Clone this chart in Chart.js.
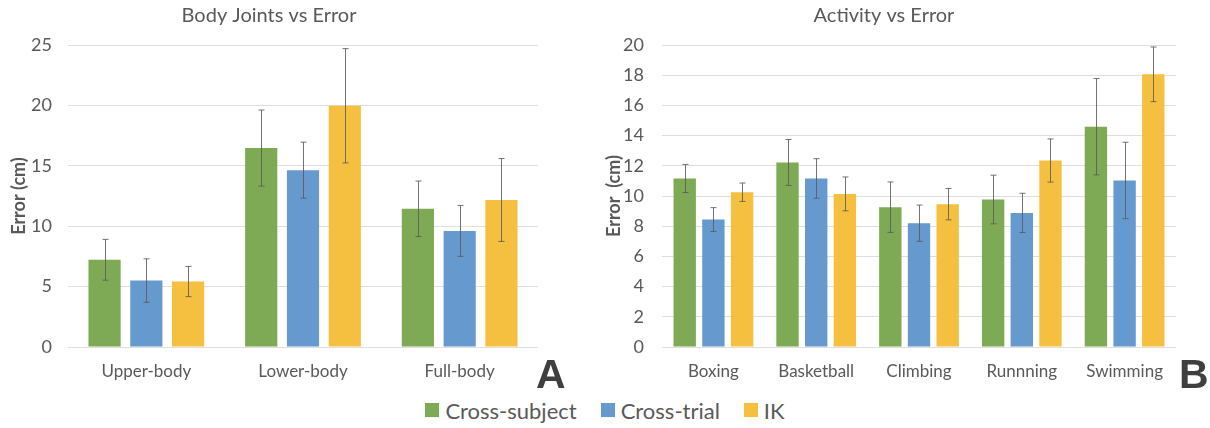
<!DOCTYPE html>
<html><head><meta charset="utf-8">
<script src="https://cdn.jsdelivr.net/npm/chart.js@4/dist/chart.umd.min.js"></script>
<style>
html,body{margin:0;padding:0;background:#fff;width:1210px;height:428px;overflow:hidden;position:relative;font-family:Lato,"Noto Sans",sans-serif;}
#wa{position:absolute;left:0;top:0;width:546px;height:397px;}
#wb{position:absolute;left:592px;top:0;width:592px;height:397px;}
.letter{position:absolute;font-family:"Liberation Sans",Arial,sans-serif;font-weight:bold;font-size:41px;color:#3f3f3f;line-height:1;}
#legend{position:absolute;left:0;width:1210px;top:398px;height:24px;display:flex;justify-content:center;align-items:center;color:#595959;font-size:22px;}
.li{display:flex;align-items:center;margin:0 12px;}
.sw{width:14px;height:14px;margin-right:6px;}
</style></head>
<body>
<div id="wa"><canvas id="ca"></canvas></div>
<div id="wb"><canvas id="cb"></canvas></div>
<div class="letter" style="left:536px;top:354px;">A</div>
<div class="letter" style="left:1179px;top:354px;">B</div>
<div id="legend"></div>
<script>
// ---- data ----
const seriesNames = ["Cross-subject", "Cross-trial", "IK"];
const seriesColors = ["#7EAA55", "#6699CE", "#F5BF3F"];

const jointCats = ["Upper-body", "Lower-body", "Full-body"];
const jointCrossSubject = [7.22, 16.47, 11.44];
const jointCrossSubjectErr = [1.69, 3.15, 2.30];
const jointCrossTrial = [5.50, 14.64, 9.61];
const jointCrossTrialErr = [1.80, 2.32, 2.11];
const jointIK = [5.42, 19.97, 12.17];
const jointIKErr = [1.25, 4.73, 3.43];

const actCats = ["Boxing", "Basketball", "Climbing", "Runnning", "Swimming"];
const actCrossSubject = [11.16, 12.22, 9.26, 9.77, 14.59];
const actCrossSubjectErr = [0.93, 1.52, 1.67, 1.61, 3.19];
const actCrossTrial = [8.44, 11.16, 8.20, 8.88, 11.03];
const actCrossTrialErr = [0.79, 1.31, 1.20, 1.30, 2.53];
const actIK = [10.25, 10.14, 9.46, 12.35, 18.06];
const actIKErr = [0.61, 1.12, 1.04, 1.43, 1.81];

const leftTicks = [0, 5, 10, 15, 20, 25];
const rightTicks = [0, 2, 4, 6, 8, 10, 12, 14, 16, 18, 20];

// ---- legend ----
const lg = document.getElementById('legend');
seriesNames.forEach((n, i) => {
  const d = document.createElement('div'); d.className = 'li';
  const s = document.createElement('div'); s.className = 'sw'; s.style.background = seriesColors[i];
  const t = document.createElement('span'); t.textContent = n;
  d.appendChild(s); d.appendChild(t); lg.appendChild(d);
});

const FONT = "Lato";
const TXT = "#595959";

const errorBars = {
  id: 'errorBars',
  afterDatasetsDraw(chart) {
    const ctx = chart.ctx;
    const ys = chart.scales.y;
    ctx.save();
    ctx.strokeStyle = "rgba(90,90,90,0.85)";
    ctx.lineWidth = 1;
    chart.data.datasets.forEach((ds, di) => {
      const meta = chart.getDatasetMeta(di);
      meta.data.forEach((bar, i) => {
        const v = ds.data[i], e = ds.errors[i];
        const x = Math.round(bar.x) + 0.5;
        const y1 = ys.getPixelForValue(v + e), y2 = ys.getPixelForValue(v - e);
        ctx.beginPath();
        ctx.moveTo(x, y1); ctx.lineTo(x, y2);
        ctx.moveTo(x - 3, y1); ctx.lineTo(x + 3, y1);
        ctx.moveTo(x - 3, y2); ctx.lineTo(x + 3, y2);
        ctx.stroke();
      });
    });
    ctx.restore();
  }
};

function makeChart(id, title, cats, vals, errs, ticks, step, yWidth, yTitle, yTitlePad, tickPad, catPct, barPct) {
  return new Chart(document.getElementById(id), {
    type: 'bar',
    data: {
      labels: cats,
      datasets: vals.map((v, i) => ({
        label: seriesNames[i], data: v, errors: errs[i],
        backgroundColor: seriesColors[i], borderWidth: 0,
        categoryPercentage: catPct, barPercentage: barPct
      }))
    },
    options: {
      responsive: true, maintainAspectRatio: false, animation: false,
      devicePixelRatio: 1,
      layout: { padding: { left: 0, right: 8, top: 0, bottom: 0 } },
      plugins: {
        legend: { display: false },
        tooltip: { enabled: false },
        title: { display: true, text: title, color: TXT,
          font: { family: FONT, size: 20, weight: 'normal' }, padding: { top: 4, bottom: 17 } }
      },
      scales: {
        x: {
          grid: { display: false, drawTicks: false },
          border: { display: false },
          ticks: { color: TXT, font: { family: FONT, size: 17 }, padding: 14, maxRotation: 0 },
          afterFit(s) { s.height = 50; }
        },
        y: {
          min: ticks[0], max: ticks[ticks.length - 1],
          afterBuildTicks(s) { s.ticks = ticks.map(v => ({ value: v })); },
          grid: { color: "#DEDEDE", lineWidth: 1, drawTicks: false },
          border: { display: false },
          ticks: { color: TXT, font: { family: FONT, size: 18 }, padding: tickPad, stepSize: step },
          title: { display: true, text: yTitle, color: TXT,
            font: { family: FONT, size: 18, weight: 'bold' }, padding: { top: yTitlePad, bottom: 0 } },
          afterFit(s) { s.width = yWidth; }
        }
      }
    },
    plugins: [errorBars]
  });
}

makeChart('ca', "Body Joints vs Error", jointCats,
  [jointCrossSubject, jointCrossTrial, jointIK],
  [jointCrossSubjectErr, jointCrossTrialErr, jointIKErr],
  leftTicks, 5, 68, "Error (cm)", 8, 16, 0.8, 0.77);

makeChart('cb', "Activity vs Error", actCats,
  [actCrossSubject, actCrossTrial, actIK],
  [actCrossSubjectErr, actCrossTrialErr, actIKErr],
  rightTicks, 2, 70, "Error  (cm)", 11, 18, 0.837, 0.78);
</script>
</body></html>
